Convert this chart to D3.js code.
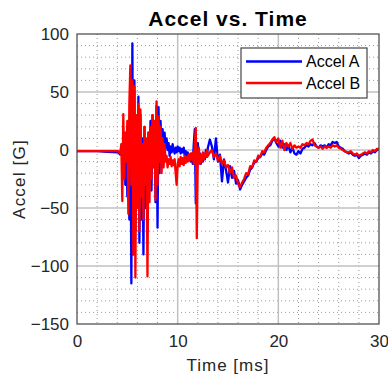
<!DOCTYPE html>
<html>
<head>
<meta charset="utf-8">
<script src="https://cdn.jsdelivr.net/npm/d3@7"></script>
<style>
  body { margin: 0; background: #fff; }
  text { font-family: "Liberation Sans", Arial, sans-serif; }
</style>
</head>
<body>
<div id="container"></div>
<script>
// time base (ms) and the two accelerometer traces (G)
let timeMs = [0, 1, 2, 3,
  4.0, 4.1, 4.2, 4.3, 4.4, 4.5, 4.6, 4.7, 4.8, 4.9,
  5.0, 5.1, 5.2, 5.3, 5.4, 5.5, 5.6, 5.7, 5.8, 5.9,
  6.0, 6.1, 6.2, 6.3, 6.4, 6.5, 6.6, 6.7, 6.8, 6.9,
  7.0, 7.1, 7.2, 7.3, 7.4, 7.5, 7.6, 7.7, 7.8, 7.9,
  8.0, 8.1, 8.2, 8.3, 8.4, 8.5, 8.6, 8.7, 8.8, 8.9,
  9.0, 9.1, 9.2, 9.3, 9.4, 9.5, 9.6, 9.7, 9.8, 9.9,
  10.0, 10.1, 10.2, 10.3, 10.4, 10.5, 10.6, 10.7, 10.8, 10.9,
  11.0, 11.1, 11.2, 11.3, 11.4, 11.5, 11.6, 11.7, 11.8, 11.9,
  12.0, 12.1, 12.2, 12.3, 12.4, 12.5, 12.6, 12.7, 12.8, 12.9,
  13.0, 13.2, 13.4, 13.6, 13.8, 14.0, 14.2, 14.4, 14.6, 14.8,
  15.0, 15.2, 15.4, 15.6, 15.8, 16.0, 16.2, 16.4, 16.6, 16.8,
  17.0, 17.2, 17.4, 17.6, 17.8, 18.0, 18.2, 18.4, 18.6, 18.8,
  19.0, 19.2, 19.4, 19.6, 19.8, 20.0, 20.2, 20.4, 20.6, 20.8,
  21.0, 21.2, 21.4, 21.6, 21.8, 22.0, 22.2, 22.4, 22.6, 22.8,
  23.0, 23.2, 23.4, 23.6, 23.8, 24.0, 24.2, 24.4, 24.6, 24.8,
  25.0, 25.2, 25.4, 25.6, 25.8, 26.0, 26.2, 26.4, 26.6, 26.8,
  27.0, 27.2, 27.4, 27.6, 27.8, 28.0, 28.2, 28.4, 28.6, 28.8,
  29.0, 29.2, 29.4, 29.6, 29.8, 30.0];

let accelA = [-1, -1, -1, -1.5,
  -2, -2, -3, -4, -3, 5, -20, 10, -30, 15,
  -40, 20, -60, 50, -115, 92, -90, 60, -70, 20,
  -40, 46, -80, 30, -60, 10, -90, 20, -50, 5,
  -70, 15, -20, 25, -35, 30, -10, 20, -45, 38,
  -67, 37, -20, 25, -5, 18, 5, 15, 2, 10,
  0, 6, -5, 3, -2, 5, 0, -3, 2, -2,
  3, -1, 2, -3, 1, -2, 2, -5, -1, -6,
  -2, -8, -4, -10, -6, -12, 5, 18, -46, -20,
  6, -8, -3, -12, -6, -10, -4, -8, 0, -6,
  2, 9, 3, -8, 10, -10, -4, -27, -8, -17,
  -28, -14, -24, -18, -29, -26, -34, -30, -27, -24,
  -22, -17, -15, -11, -10, -7, -6, -3, -4, 0,
  3, 4, 8, 10, 6, 3, 8, 2, 5, 0,
  4, -2, 2, -3, -4, -1, -3, 1, 2, 4,
  3, 5, 4, 6, 3, 2, 4, 3, 4, 2,
  5, 4, 7, 6, 7, 3, 2, 1, -1, -2,
  -3, -2, -4, -5, -4, -7, -5, -4, -3, -4,
  -2, -3, -1, -2, 0, 1];

let accelB = [-1, -1, -1, -1,
  -1, -1, -2, -3, 5, -44, 31, -25, 15, -10,
  25, -55, 40, 73, -30, 60, -90, 55, -110, 30,
  -50, 40, -70, 35, -40, 5, -60, 20, -30, 10,
  -109, 15, -45, 20, -25, 30, -15, 25, -43, 42,
  -30, 29, -10, 20, -20, 10, -15, 5, -10, -5,
  -15, -8, -12, -6, -14, -9, -13, -8, -20, -30,
  -12, -8, -14, -6, -12, -7, -13, -5, -11, -6,
  -10, -4, -9, -3, -8, -2, -12, 5, 19, -76,
  -5, 2, -12, -4, -10, -2, -8, -3, -6, 0,
  -5, -2, 0, -6, -3, -9, -5, -12, -9, -15,
  -13, -20, -15, -24, -22, -29, -32, -28, -25, -20,
  -21, -14, -15, -9, -10, -5, -6, -1, -2, 2,
  4, 6, 9, 11, 7, 10, 2, 8, 0, 6,
  3, 6, 1, 4, 2, 3, 2, 5, 4, 6,
  5, 8, 9, 4, 3, 2, 3, 1, 3, 2,
  3, 2, 4, 3, 4, 2, 1, 0, -1, -2,
  -2, -1, -3, -4, -3, -5, -4, -3, -2, -3,
  -1, -2, 0, -1, 1, 1];

let seriesNames = ['Accel A', 'Accel B'];
let seriesColors = ['#0000ff', '#ff0000'];
let xTicks = [0, 10, 20, 30];
let yTicks = [-150, -100, -50, 0, 50, 100];
let xMinor = [2, 4, 6, 8, 12, 14, 16, 18, 22, 24, 26, 28];
let yMinor = [-140, -130, -120, -110, -90, -80, -70, -60, -40, -30, -20, -10,
  10, 20, 30, 40, 60, 70, 80, 90];

let width = 388;
let height = 376;
let plotLeft = 77, plotRight = 379, plotTop = 34, plotBottom = 324;

let svg = d3.select('#container').append('svg')
    .attr('width', width).attr('height', height);

let xScale = d3.scaleLinear().domain([0, 30]).range([plotLeft, plotRight]);
let yScale = d3.scaleLinear().domain([-150, 100]).range([plotBottom, plotTop]);

svg.append('rect')
    .attr('x', plotLeft).attr('y', plotTop)
    .attr('width', plotRight - plotLeft).attr('height', plotBottom - plotTop)
    .attr('fill', '#fff');

// minor grid (dotted)
let grid = svg.append('g');
grid.selectAll('.vminor').data(xMinor).enter().append('line')
    .attr('x1', d => xScale(d)).attr('x2', d => xScale(d))
    .attr('y1', plotTop).attr('y2', plotBottom)
    .attr('stroke', '#9a9a9a').attr('stroke-width', 1).attr('stroke-dasharray', '1,3');
grid.selectAll('.hminor').data(yMinor).enter().append('line')
    .attr('y1', d => yScale(d)).attr('y2', d => yScale(d))
    .attr('x1', plotLeft).attr('x2', plotRight)
    .attr('stroke', '#9a9a9a').attr('stroke-width', 1).attr('stroke-dasharray', '1,3');

// major grid
grid.selectAll('.vmajor').data(xTicks.slice(1, -1)).enter().append('line')
    .attr('x1', d => xScale(d)).attr('x2', d => xScale(d))
    .attr('y1', plotTop).attr('y2', plotBottom)
    .attr('stroke', '#c0c0c0').attr('stroke-width', 1.5);
grid.selectAll('.hmajor').data(yTicks.slice(1, -1)).enter().append('line')
    .attr('y1', d => yScale(d)).attr('y2', d => yScale(d))
    .attr('x1', plotLeft).attr('x2', plotRight)
    .attr('stroke', '#c0c0c0').attr('stroke-width', 1.5);

// data lines
svg.append('clipPath').attr('id', 'clip').append('rect')
    .attr('x', plotLeft).attr('y', plotTop)
    .attr('width', plotRight - plotLeft).attr('height', plotBottom - plotTop);

let line = d3.line()
    .x((d, i) => xScale(timeMs[i]))
    .y(d => yScale(d));

svg.append('g').attr('clip-path', 'url(#clip)')
    .selectAll('path').data([accelA, accelB]).enter().append('path')
    .attr('d', line)
    .attr('fill', 'none')
    .attr('stroke', (d, i) => seriesColors[i])
    .attr('stroke-width', 2.3)
    .attr('stroke-linejoin', 'round');

// axes
let xAxis = svg.append('g').attr('transform', 'translate(0,' + plotBottom + ')')
    .call(d3.axisBottom(xScale).tickValues(xTicks).tickSize(0).tickPadding(11));
let yAxis = svg.append('g').attr('transform', 'translate(' + plotLeft + ',0)')
    .call(d3.axisLeft(yScale).tickValues(yTicks).tickSize(0).tickPadding(8));
[xAxis, yAxis].forEach(a => {
    a.select('.domain').remove();
    a.selectAll('text').attr('font-size', 17).attr('fill', '#262626')
        .style('font-family', '"Liberation Sans", Arial, sans-serif');
});

svg.append('rect')
    .attr('x', plotLeft).attr('y', plotTop)
    .attr('width', plotRight - plotLeft).attr('height', plotBottom - plotTop)
    .attr('fill', 'none').attr('stroke', '#444').attr('stroke-width', 1.2);

// title and labels
svg.append('text').text('Accel vs. Time')
    .attr('x', (plotLeft + plotRight) / 2).attr('y', 26)
    .attr('text-anchor', 'middle').attr('font-weight', 'bold').attr('font-size', 21)
    .attr('letter-spacing', 1);

svg.append('text').text('Time [ms]')
    .attr('x', (plotLeft + plotRight) / 2).attr('y', 371)
    .attr('text-anchor', 'middle').attr('font-size', 17).attr('fill', '#262626')
    .attr('letter-spacing', 1);

svg.append('text').text('Accel [G]')
    .attr('transform', 'translate(25,' + (plotTop + plotBottom) / 2 + ') rotate(-90)')
    .attr('text-anchor', 'middle').attr('font-size', 17).attr('fill', '#262626')
    .attr('letter-spacing', 1.2);

// legend
let legend = svg.append('g').attr('transform', 'translate(241,48)');
legend.append('rect')
    .attr('width', 126).attr('height', 50)
    .attr('fill', '#fff').attr('stroke', '#444').attr('stroke-width', 1.2);
let items = legend.selectAll('.item').data(seriesNames).enter().append('g')
    .attr('transform', (d, i) => 'translate(0,' + (13.5 + i * 21.5) + ')');
items.append('line')
    .attr('x1', 5).attr('x2', 61)
    .attr('stroke', (d, i) => seriesColors[i]).attr('stroke-width', 2.5);
items.append('text').text(d => d)
    .attr('x', 65).attr('y', 5.5)
    .attr('font-size', 16).attr('fill', '#000');
</script>
</body>
</html>
